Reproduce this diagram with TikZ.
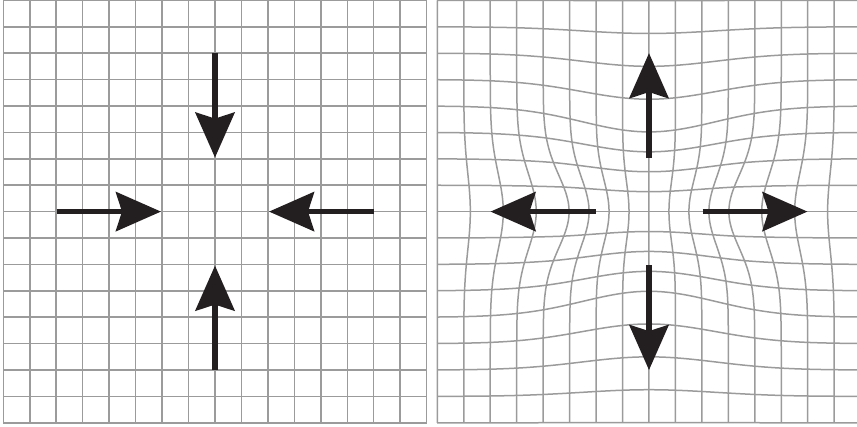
\documentclass[tikz,border=0pt]{standalone}
\usepackage{tikz}
\usetikzlibrary{arrows.meta, calc}
\definecolor{gridgray}{RGB}{155,155,155}
\definecolor{arrowblk}{RGB}{35,31,32}

\begin{document}
\begin{tikzpicture}[
    x=0.5pt, y=-0.5pt,
    gridline/.style={draw=gridgray, line width=0.75pt},
    bigarrow/.style={draw=arrowblk, line width=2.8pt, -{Stealth[length=22.5pt, width=19.5pt, inset=3pt]}},
    declare function={
      tri(\z)=(abs(\z+106)-abs(\z-106)-\z)/106;
      damp(\z,\w)=exp(-min(8,(\z/\w)*(\z/\w)));
      warpx(\a,\b)=\a-26*tri(\a)*damp(\b,55);
      warpy(\a,\b)=\b-26*tri(\b)*damp(\a,95);
    },
]
    \useasboundingbox (0,0) rectangle (857,427);

    % left panel: plain grid
    \foreach \i in {0,...,16}{
        \draw[gridline] (3.3+26.46*\i,0.4) -- (3.3+26.46*\i,422.8);
        \draw[gridline] (3.3,0.4+26.4*\i) -- (426.7,0.4+26.4*\i);
    }

    % right panel: warped grid
    \begin{scope}
        \clip (434,-2) rectangle (857,430);
        \foreach \j in {0,...,16}{
            \pgfmathsetmacro{\vv}{-211.2+26.4*\j}
            \draw[gridline] plot[domain=-212:212, samples=90, smooth, variable=\s]
                ({649+warpx(\s,\vv)},{211.6+warpy(\s,\vv)});
        }
        \foreach \i in {0,...,16}{
            \pgfmathsetmacro{\uu}{-211.7+26.46*\i}
            \draw[gridline] plot[domain=-211.2:211.2, samples=90, smooth, variable=\s]
                ({649+warpx(\uu,\s)},{211.6+warpy(\uu,\s)});
        }
    \end{scope}

    % centres
    \coordinate (lc) at (215,211.6);
    \coordinate (rc) at (649,211.6);

    % arrows in / out
    \foreach \r in {0,90,180,270}{
        \draw[bigarrow] ($(lc)+(\r:158.5)$) -- ($(lc)+(\r:54)$);
        \draw[bigarrow] ($(rc)+(\r:53.5)$) -- ($(rc)+(\r:158.5)$);
    }
\end{tikzpicture}
\end{document}
